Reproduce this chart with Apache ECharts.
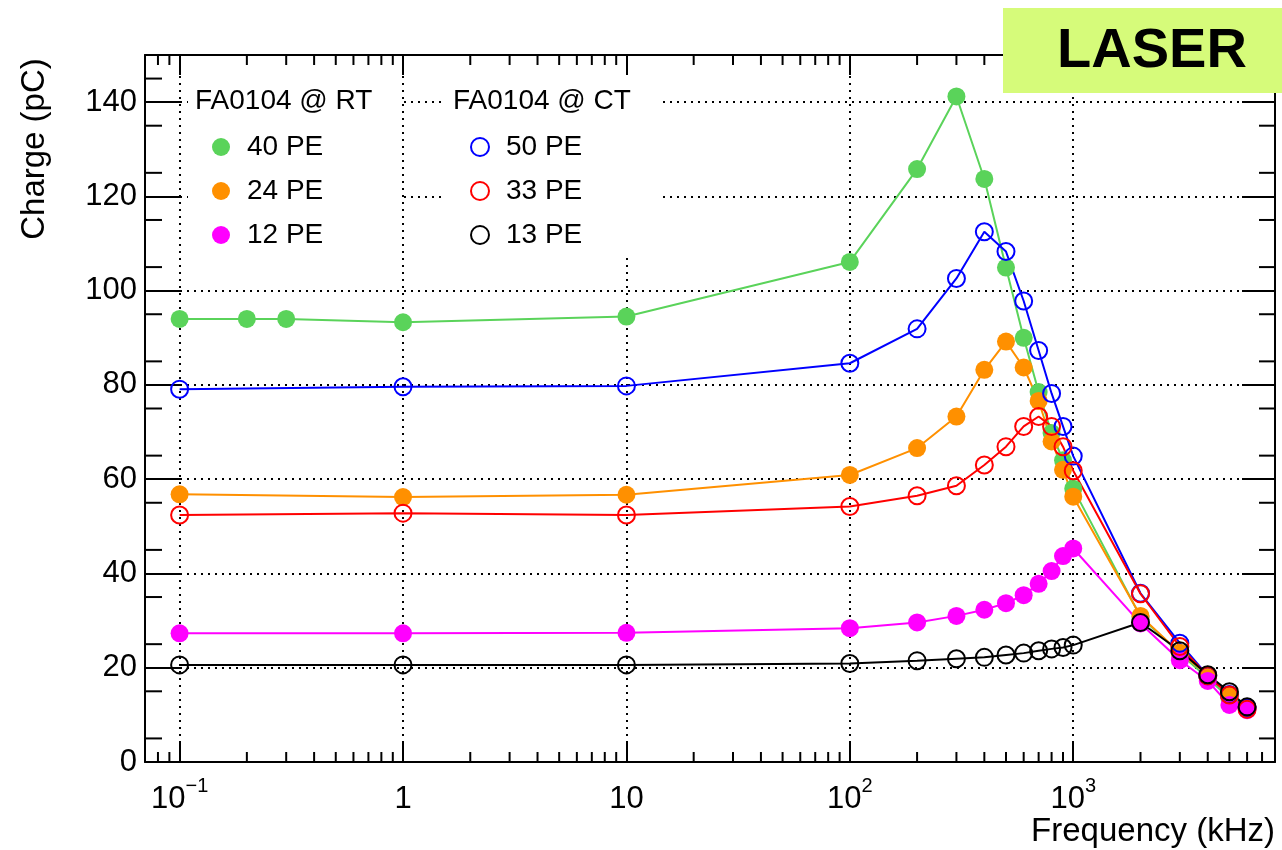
<!DOCTYPE html>
<html>
<head>
<meta charset="utf-8">
<script src="https://cdn.jsdelivr.net/npm/echarts@6/dist/echarts.min.js"></script>
<style>
html,body{margin:0;padding:0;background:#fff;}
#chart{width:1282px;height:850px;}
</style>
</head>
<body>
<div id="chart"></div>
<script>
// ---------------- data ----------------
const freqRT40 = [0.1, 0.2, 0.3, 1, 10, 100, 200, 300, 400, 500, 600, 700, 800, 900, 1000, 2000, 3000, 4000, 5000, 6000];
const chargeRT40 = [94.0, 94.0, 94.0, 93.3, 94.5, 106.1, 125.8, 141.2, 123.7, 104.9, 90.0, 78.5, 69.8, 64.0, 58.0, 30.8, 23.0, 17.8, 13.5, 11.2];

const freqStd = [0.1, 1, 10, 100, 200, 300, 400, 500, 600, 700, 800, 900, 1000, 2000, 3000, 4000, 5000, 6000];
const chargeRT24 = [56.8, 56.2, 56.7, 60.9, 66.6, 73.3, 83.2, 89.2, 83.7, 76.6, 68.0, 62.0, 56.3, 31.0, 23.2, 18.5, 14.2, 11.2];
const chargeRT12 = [27.3, 27.3, 27.4, 28.4, 29.6, 31.0, 32.3, 33.7, 35.4, 37.8, 40.5, 43.7, 45.3, 29.4, 21.6, 17.2, 12.1, 11.0];
const chargeCT50 = [79.1, 79.6, 79.8, 84.6, 91.9, 102.6, 112.5, 108.3, 97.8, 87.3, 78.2, 71.2, 64.9, 35.8, 25.2, 18.3, 14.3, 11.5];
const chargeCT33 = [52.4, 52.8, 52.4, 54.2, 56.5, 58.6, 63.0, 66.9, 71.2, 73.3, 71.2, 66.9, 61.8, 35.7, 24.5, 18.3, 14.2, 11.2];
const chargeCT13 = [20.6, 20.6, 20.6, 20.9, 21.5, 21.9, 22.2, 22.7, 23.1, 23.6, 24.0, 24.3, 24.8, 29.6, 23.6, 18.5, 14.9, 11.7];

const seriesNamesRT = ['40 PE', '24 PE', '12 PE'];
const seriesNamesCT = ['50 PE', '33 PE', '13 PE'];
const legendTitleRT = 'FA0104 @ RT';
const legendTitleCT = 'FA0104 @ CT';
const xAxisTitle = 'Frequency (kHz)';
const yAxisTitle = 'Charge (pC)';

const xTickValues = [0.1, 1, 10, 100, 1000];
const xTickLabels = ['{b|10}{s|\u22121}', '1', '10', '{b|10}{s|2}', '{b|10}{s|3}'];
const xMinorTicks = [0.08, 0.09, 0.2, 0.3, 0.4, 0.5, 0.6, 0.7, 0.8, 0.9, 2, 3, 4, 5, 6, 7, 8, 9,
  20, 30, 40, 50, 60, 70, 80, 90, 200, 300, 400, 500, 600, 700, 800, 900,
  2000, 3000, 4000, 5000, 6000, 7000];
const yMinorTicks = [5, 15, 25, 35, 45, 55, 65, 75, 85, 95, 105, 115, 125, 135, 145];

// ---------------- chart ----------------
const FONT = '"Liberation Sans", Arial, Helvetica, sans-serif';
const X_MIN = 0.07, X_MAX = 8000, Y_MIN = 0, Y_MAX = 150;

function lineSeries(name, freqs, vals, color, filled) {
  return {
    name: name,
    type: 'line',
    data: freqs.map((f, i) => [f, vals[i]]),
    symbol: 'circle',
    symbolSize: filled ? 18 : 17,
    lineStyle: { color: color, width: 2 },
    itemStyle: filled ? { color: color } : { color: 'rgba(0,0,0,0)', borderColor: color, borderWidth: 2 },
    emphasis: { disabled: true },
    silent: true,
    animation: false
  };
}

function xLabel(value) {
  for (let i = 0; i < xTickValues.length; i++) {
    if (Math.abs(value - xTickValues[i]) / xTickValues[i] < 1e-6) return xTickLabels[i];
  }
  return '';
}

const tickStyle = { stroke: '#000', lineWidth: 2 };
const axisLineStyle = { show: true, onZero: false, lineStyle: { color: '#000', width: 2 } };

const option = {
  backgroundColor: '#fff',
  animation: false,
  grid: { left: 145, right: 7, top: 55, bottom: 88, containLabel: false, outerBoundsMode: 'none' },
  xAxis: [
    {
      type: 'log', logBase: 10, min: X_MIN, max: X_MAX, position: 'bottom',
      axisLine: axisLineStyle,
      axisTick: { show: true, inside: true, length: 20, lineStyle: { color: '#000', width: 2 } },
      splitLine: { show: true, lineStyle: { color: '#000', width: 2, type: [2, 5] } },
      axisLabel: {
        formatter: xLabel, showMinLabel: false, showMaxLabel: false,
        fontSize: 31, fontFamily: FONT, color: '#000', margin: 14, lineHeight: 46,
        rich: {
          b: { fontSize: 31, fontFamily: FONT, color: '#000', lineHeight: 46 },
          s: { fontSize: 20, fontFamily: FONT, color: '#000', verticalAlign: 'top' }
        }
      }
    },
    {
      type: 'log', logBase: 10, min: X_MIN, max: X_MAX, position: 'top',
      axisLine: axisLineStyle,
      axisTick: { show: true, inside: true, length: 20, lineStyle: { color: '#000', width: 2 } },
      splitLine: { show: false },
      axisLabel: { show: false }
    }
  ],
  yAxis: [
    {
      type: 'value', min: Y_MIN, max: Y_MAX, interval: 20, position: 'left',
      axisLine: axisLineStyle,
      axisTick: { show: true, inside: true, length: 35, lineStyle: { color: '#000', width: 2 } },
      splitLine: { show: true, lineStyle: { color: '#000', width: 2, type: [2, 5] } },
      axisLabel: { showMaxLabel: false, fontSize: 31, fontFamily: FONT, color: '#000', margin: 8 }
    },
    {
      type: 'value', min: Y_MIN, max: Y_MAX, interval: 20, position: 'right',
      axisLine: axisLineStyle,
      axisTick: { show: true, inside: true, length: 33, lineStyle: { color: '#000', width: 2 } },
      splitLine: { show: false },
      axisLabel: { show: false }
    }
  ],
  legend: [
    {
      data: seriesNamesRT, orient: 'vertical', left: 207, top: 128,
      icon: 'circle', itemWidth: 18, itemHeight: 18, itemGap: 16,
      selectedMode: false, z: 6,
      textStyle: { fontSize: 28, fontFamily: FONT, color: '#000', lineHeight: 28, padding: [0, 0, 0, 12] }
    },
    {
      data: seriesNamesCT, orient: 'vertical', left: 465, top: 128,
      icon: 'circle', itemWidth: 18, itemHeight: 18, itemGap: 16,
      selectedMode: false, z: 6,
      textStyle: { fontSize: 28, fontFamily: FONT, color: '#000', lineHeight: 28, padding: [0, 0, 0, 12] }
    }
  ],
  graphic: {
    elements: [
      { type: 'rect', z: 1, shape: { x: 188, y: 75, width: 213, height: 183 }, style: { fill: '#fff' } },
      { type: 'rect', z: 1, shape: { x: 445, y: 75, width: 215, height: 183 }, style: { fill: '#fff' } },
      { type: 'text', z: 6, x: 195, y: 101, style: { text: legendTitleRT, fontSize: 28, fontFamily: FONT, fill: '#000', verticalAlign: 'middle', align: 'left' } },
      { type: 'text', z: 6, x: 453, y: 101, style: { text: legendTitleCT, fontSize: 28, fontFamily: FONT, fill: '#000', verticalAlign: 'middle', align: 'left' } },
      { type: 'text', z: 6, x: 35, y: 149, rotation: Math.PI / 2, style: { text: yAxisTitle, fontSize: 33, fontFamily: FONT, fill: '#000', verticalAlign: 'middle', align: 'center' } },
      { type: 'text', z: 6, x: 1275, y: 832, style: { text: xAxisTitle, fontSize: 33, fontFamily: FONT, fill: '#000', verticalAlign: 'middle', align: 'right' } },
      { type: 'rect', z: 20, shape: { x: 1003, y: 8, width: 279, height: 85 }, style: { fill: '#d6fb7a' } },
      { type: 'text', z: 21, x: 1152, y: 52, style: { text: 'LASER', fontSize: 56, fontWeight: 'bold', fontFamily: FONT, fill: '#000', verticalAlign: 'middle', align: 'center' } }
    ]
  },
  series: [
    lineSeries(seriesNamesRT[0], freqRT40, chargeRT40, '#5ad35a', true),
    lineSeries(seriesNamesRT[1], freqStd, chargeRT24, '#ff9000', true),
    lineSeries(seriesNamesRT[2], freqStd, chargeRT12, '#ff00ff', true),
    lineSeries(seriesNamesCT[0], freqStd, chargeCT50, '#0000ff', false),
    lineSeries(seriesNamesCT[1], freqStd, chargeCT33, '#ff0000', false),
    lineSeries(seriesNamesCT[2], freqStd, chargeCT13, '#000000', false),
    {
      name: 'xMinorTicks', type: 'custom', silent: true, clip: false, z: 1,
      data: xMinorTicks.map(v => [v, 0]),
      renderItem: function (params, api) {
        const v = api.value(0);
        const b = api.coord([v, Y_MIN]);
        const t = api.coord([v, Y_MAX]);
        return {
          type: 'group', children: [
            { type: 'line', shape: { x1: b[0], y1: b[1], x2: b[0], y2: b[1] - 10 }, style: tickStyle },
            { type: 'line', shape: { x1: t[0], y1: t[1], x2: t[0], y2: t[1] + 10 }, style: tickStyle }
          ]
        };
      }
    },
    {
      name: 'yMinorTicks', type: 'custom', silent: true, clip: false, z: 1,
      data: yMinorTicks.map(v => [1, v]),
      renderItem: function (params, api) {
        const v = api.value(1);
        const l = api.coord([X_MIN, v]);
        const r = api.coord([X_MAX, v]);
        return {
          type: 'group', children: [
            { type: 'line', shape: { x1: l[0], y1: l[1], x2: l[0] + 17, y2: l[1] }, style: tickStyle },
            { type: 'line', shape: { x1: r[0], y1: r[1], x2: r[0] - 16, y2: r[1] }, style: tickStyle }
          ]
        };
      }
    }
  ]
};

const chart = echarts.init(document.getElementById('chart'), null, { renderer: 'canvas' });
chart.setOption(option);
</script>
</body>
</html>
